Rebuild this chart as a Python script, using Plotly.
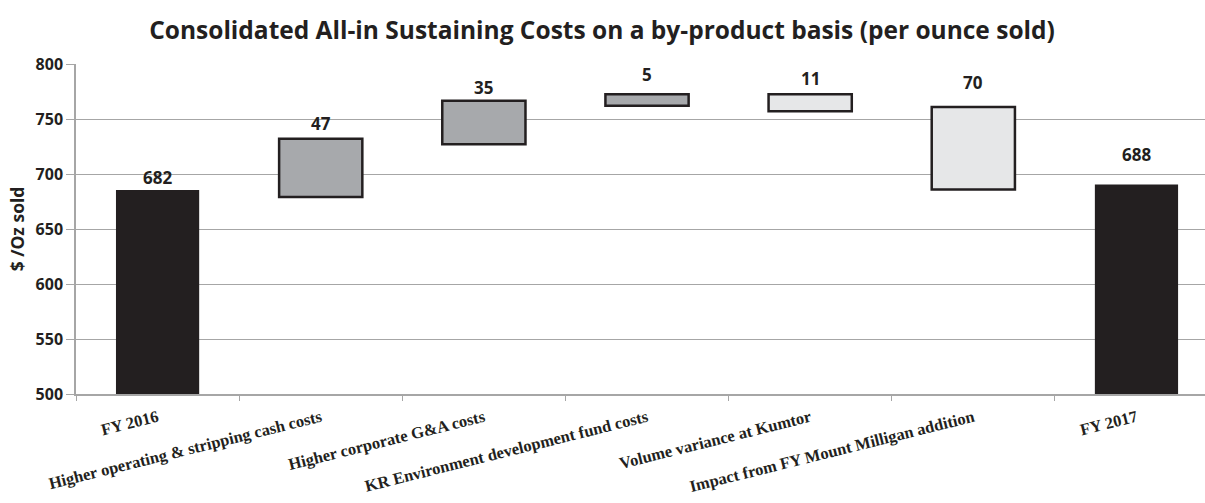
import plotly.graph_objects as go

categories = [
    "FY 2016",
    "Higher operating & stripping cash costs",
    "Higher corporate G&A costs",
    "KR Environment development fund costs",
    "Volume variance at Kumtor",
    "Impact from FY Mount Milligan addition",
    "FY 2017",
]
bar_base = [0, 679, 727, 762, 757, 686, 0]
bar_top = [685.5, 732, 766.5, 772.5, 772.5, 761, 690.5]
value_labels = ["682", "47", "35", "5", "11", "70", "688"]
bar_kind = ["total", "increase", "increase", "increase", "decrease", "decrease", "total"]

DARK = "#231f20"
kind_fill = {"total": DARK, "increase": "#a7a9ac", "decrease": "#e6e7e8"}
kind_line = {"total": 0, "increase": 2.5, "decrease": 2.5}
label_gap_px = [3, 6, 4, 10, 6, 15, 20]

fig = go.Figure()
fig.add_trace(go.Bar(
    x=categories,
    y=[t - b for t, b in zip(bar_top, bar_base)],
    base=bar_base,
    width=0.51,
    marker=dict(
        color=[kind_fill[k] for k in bar_kind],
        line=dict(color=DARK, width=[kind_line[k] for k in bar_kind]),
    ),
    hoverinfo="skip",
    showlegend=False,
))

for cat, top, lab, gap in zip(categories, bar_top, value_labels, label_gap_px):
    fig.add_annotation(
        x=cat, y=top, text=lab, showarrow=False,
        yanchor="bottom", yshift=gap - 4,
        font=dict(family="Open Sans", size=17, color=DARK, weight="bold"),
    )

GRID = "#a6a6a6"
fig.update_layout(
    width=1205, height=503,
    margin=dict(l=76, r=0, t=64, b=109),
    paper_bgcolor="white", plot_bgcolor="white",
    title=dict(
        text="<b>Consolidated All-in Sustaining Costs on a by-product basis (per ounce sold)</b>",
        x=602 / 1205, xanchor="center", xref="container",
        y=1 - 30 / 503, yanchor="middle", yref="container",
        font=dict(family="Open Sans", size=24.5, color=DARK),
    ),
)
fig.update_xaxes(
    type="category",
    range=[-0.5, 6.42],
    tickangle=-14,
    tickson="boundaries",
    ticks="outside", ticklen=5, tickcolor=GRID,
    ticklabelstandoff=6,
    showline=True, linecolor=GRID, linewidth=1.5,
    showgrid=False,
    tickfont=dict(family="Liberation Serif", size=16.5, color=DARK, weight="bold"),
)
fig.update_yaxes(
    range=[500, 800], dtick=50,
    showgrid=True, gridcolor=GRID, gridwidth=1,
    showline=True, linecolor=GRID, linewidth=1.5,
    ticks="outside", ticklen=8, tickcolor=GRID,
    tickfont=dict(family="Open Sans", size=16, color=DARK, weight="bold"),
    title=dict(text="<b>$ /Oz sold</b>", standoff=6,
               font=dict(family="Open Sans", size=17.5, color=DARK)),
    zeroline=False,
)

fig.write_html("out.html")
